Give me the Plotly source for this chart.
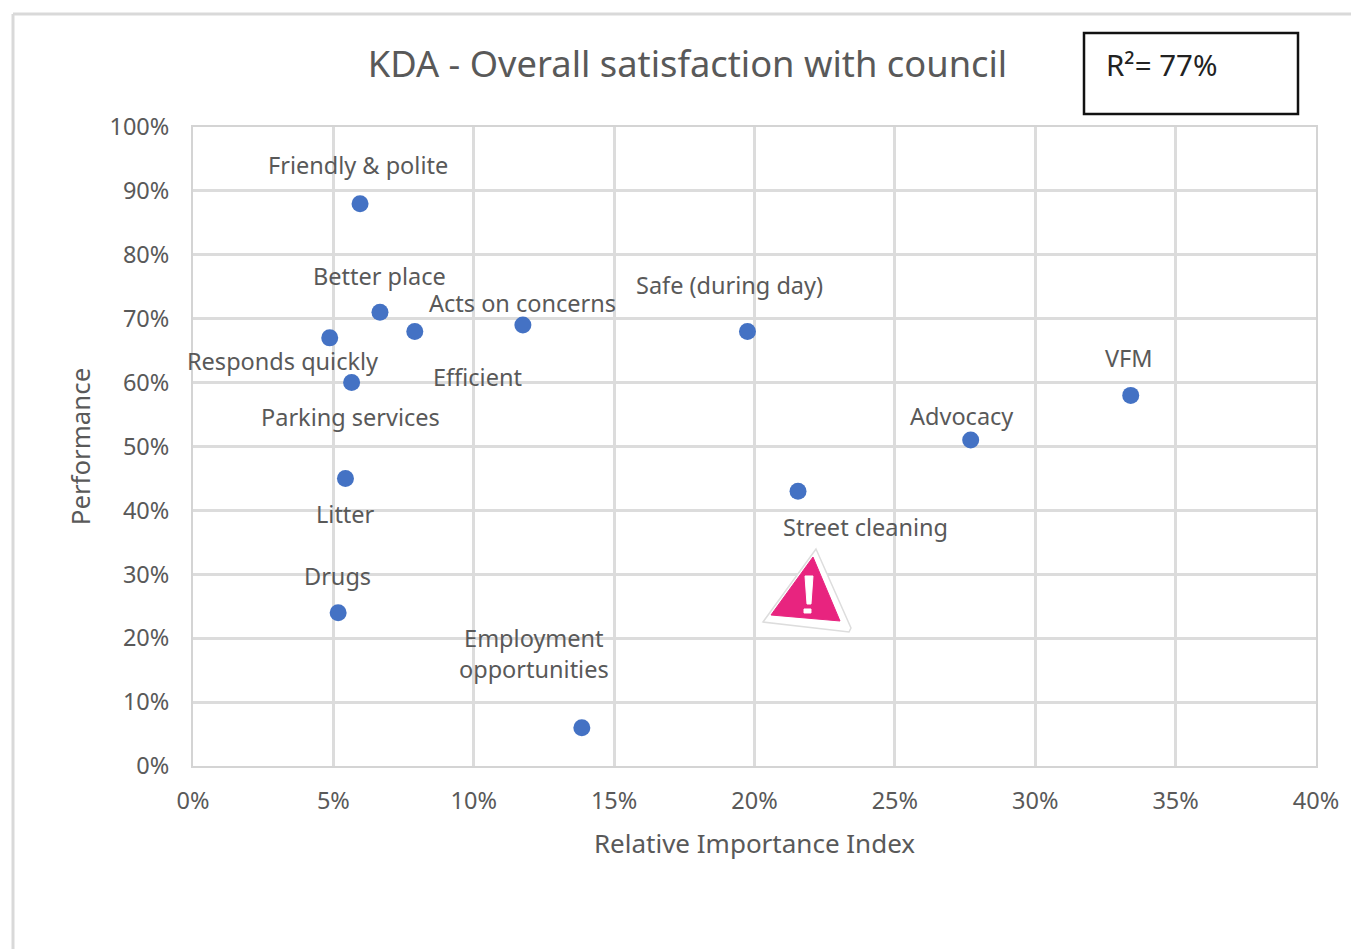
import plotly.graph_objects as go

names = ["Friendly & polite", "Better place", "Efficient", "Acts on concerns", "Safe (during day)",
         "Responds quickly", "Parking services", "VFM", "Advocacy", "Street cleaning",
         "Litter", "Drugs", "Employment<br>opportunities"]
importance = [5.95, 6.66, 7.9, 11.75, 19.75, 4.87, 5.65, 33.4, 27.7, 21.55, 5.43, 5.17, 13.85]
performance = [88, 71, 68, 69, 68, 67, 60, 58, 51, 43, 45, 24, 6]
# label offsets from each point, in pixels
label_dx = [-2, 0, 63, 0, -18, -47, -1, -2, -9, 67, 0, -1, -48]
label_dy = [-38.5, -36, 46, -22, -46, 23, 34, -37, -24, 36, 36, -36.5, -74.5]

L, T, W, H = 193, 127, 1123, 639
FW, FH = 1351, 949
GREY = "#595959"
FONT = "Noto Sans"

def px(x):
    return (x - L) / W

def py(y):
    return (T + H - y) / H

def path(points):
    return "M " + " L ".join(f"{px(x):.5f},{py(y):.5f}" for x, y in points) + " Z"

fig = go.Figure(go.Scatter(x=importance, y=performance, mode="markers",
                           marker=dict(color="#4472C4", size=17), cliponaxis=False))

annotations = [dict(x=x, y=y, text=n, showarrow=False, xshift=dx, yshift=-dy,
                    font=dict(family=FONT, size=23.5, color=GREY), xanchor="center", yanchor="middle")
               for x, y, n, dx, dy in zip(importance, performance, names, label_dx, label_dy)]
annotations.append(dict(xref="paper", yref="paper", x=px(1104), y=py(64.5), text="R²= 77%", showarrow=False,
                        xanchor="left", yanchor="middle", font=dict(family=FONT, size=29.5, color="#222222")))

shapes = [
    dict(type="line", xref="paper", yref="paper", x0=px(13), x1=px(13), y0=py(14), y1=py(949), line=dict(color="#d9d9d9", width=3)),
    dict(type="line", xref="paper", yref="paper", x0=px(13), x1=px(1351), y0=py(14), y1=py(14), line=dict(color="#d9d9d9", width=3)),
    dict(type="rect", xref="paper", yref="paper", x0=px(1084), x1=px(1298), y0=py(33), y1=py(114),
         line=dict(color="#111111", width=2.5), fillcolor="white"),
    dict(type="path", xref="paper", yref="paper", path=path([(816, 549), (851, 628), (849, 632), (763, 622)]),
         fillcolor="white", line=dict(color="#dddddd", width=1.5)),
    dict(type="path", xref="paper", yref="paper", path=path([(813, 557), (840, 621), (771, 615)]),
         fillcolor="#E8247F", line=dict(color="#E8247F", width=1)),
    dict(type="path", xref="paper", yref="paper", path=path([(805, 576), (813, 576), (811, 604), (807, 604)]),
         fillcolor="white", line=dict(color="white", width=1)),
    dict(type="path", xref="paper", yref="paper", path=path([(804, 609), (811, 609), (811, 613), (804, 613)]),
         fillcolor="white", line=dict(color="white", width=1)),
]

axis_common = dict(showgrid=True, gridcolor="#dcdcdc", gridwidth=2.5, showline=True, linecolor="#d4d4d4",
                   linewidth=2, mirror=True, zeroline=False, ticks="", ticksuffix="%",
                   tickfont=dict(family=FONT, size=23.5, color=GREY))

fig.update_layout(
    width=FW, height=FH, autosize=False, showlegend=False,
    margin=dict(l=L, t=T, r=FW - L - W, b=FH - T - H, pad=0),
    paper_bgcolor="white", plot_bgcolor="white",
    title=dict(text="KDA - Overall satisfaction with council", x=px(687.5), xref="paper", xanchor="center",
               y=1 - 64 / FH, yanchor="middle", font=dict(family=FONT, size=36.3, color=GREY)),
    xaxis=dict(axis_common, range=[0, 40], dtick=5, ticklabelstandoff=13,
               title=dict(text="Relative Importance Index", standoff=20, font=dict(family=FONT, size=26, color=GREY))),
    yaxis=dict(axis_common, range=[0, 100], dtick=10, ticklabelstandoff=17,
               title=dict(text="Performance", standoff=11, font=dict(family=FONT, size=25.8, color=GREY))),
    annotations=annotations, shapes=shapes,
)
fig.write_html("out.html", config=dict(displayModeBar=False),
               post_script="document.body.style.margin='0';document.documentElement.style.overflow='hidden';")
